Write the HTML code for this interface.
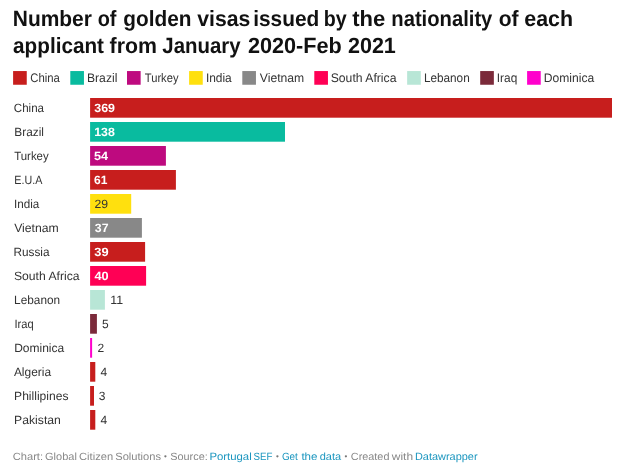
<!DOCTYPE html>
<html><head><meta charset="utf-8"><title>Chart</title>
<style>
html,body{margin:0;padding:0;background:#fff;}
body{width:620px;height:473px;position:relative;overflow:hidden;text-rendering:geometricPrecision;font-family:"Liberation Sans",sans-serif;color:#333;}
h1,.legend,.rows,.footer{position:absolute;left:0;top:0;margin:0;padding:0;width:620px;height:0;font:inherit;}
span,a{position:absolute;left:0;top:0;white-space:nowrap;line-height:20px;transform-origin:0 0;}
.t{font-weight:bold;font-size:22px;color:#111;}
.lg{font-size:12.4px;color:#333;}
.lb{font-size:12px;color:#333;}
.v{font-size:12px;color:#333;}
.ft{font-size:10.5px;color:#888;}

</style></head><body>
<svg width="620" height="473" viewBox="0 0 620 473" style="position:absolute;left:0;top:0" class="shapes">
<rect x="13.10" y="71.05" width="13.65" height="13.7" fill="#c71e1d"/>
<rect x="70.30" y="71.05" width="13.65" height="13.7" fill="#09bb9f"/>
<rect x="127.00" y="71.05" width="13.65" height="13.7" fill="#be0a7f"/>
<rect x="189.10" y="71.05" width="13.65" height="13.7" fill="#ffe00e"/>
<rect x="242.30" y="71.05" width="13.65" height="13.7" fill="#888888"/>
<rect x="314.30" y="71.05" width="13.65" height="13.7" fill="#ff0055"/>
<rect x="407.15" y="71.05" width="13.65" height="13.7" fill="#b8e6d6"/>
<rect x="480.20" y="71.05" width="13.65" height="13.7" fill="#7b2a3a"/>
<rect x="527.10" y="71.05" width="13.65" height="13.7" fill="#ff00cc"/>
<rect x="90.1" y="98" width="521.90" height="19.7" fill="#c71e1d"/>
<rect x="90.1" y="122" width="194.90" height="19.7" fill="#09bb9f"/>
<rect x="90.1" y="146" width="75.80" height="19.7" fill="#be0a7f"/>
<rect x="90.1" y="170" width="85.80" height="19.7" fill="#c71e1d"/>
<rect x="90.1" y="194" width="41.10" height="19.7" fill="#ffe00e"/>
<rect x="90.1" y="218" width="51.80" height="19.7" fill="#888888"/>
<rect x="90.1" y="242" width="55.00" height="19.7" fill="#c71e1d"/>
<rect x="90.1" y="266" width="56.00" height="19.7" fill="#ff0055"/>
<rect x="90.1" y="290" width="14.80" height="19.7" fill="#b8e6d6"/>
<rect x="90.1" y="314" width="6.80" height="19.7" fill="#7b2a3a"/>
<rect x="90.1" y="338" width="2.00" height="19.7" fill="#ff00cc"/>
<rect x="90.1" y="362" width="5.20" height="19.7" fill="#c71e1d"/>
<rect x="90.1" y="386" width="3.90" height="19.7" fill="#c71e1d"/>
<rect x="90.1" y="410" width="5.20" height="19.7" fill="#c71e1d"/>
</svg>
<h1 class="title">
<span class="t" id="a0" style="transform:translate(12.77px,9px) scaleX(0.9519);">Number</span>
<span class="t" id="a1" style="transform:translate(97.71px,9px) scaleX(0.9046);">of</span>
<span class="t" id="a2" style="transform:translate(123.36px,9px) scaleX(0.9447);">golden</span>
<span class="t" id="a3" style="transform:translate(197.22px,9px) scaleX(0.9646);">visas</span>
<span class="t" id="a4" style="transform:translate(253.17px,9px) scaleX(0.9474);">issued</span>
<span class="t" id="a5" style="transform:translate(323.73px,9px) scaleX(0.8932);">by</span>
<span class="t" id="a6" style="transform:translate(352.22px,9px);">the</span>
<span class="t" id="a7" style="transform:translate(391.30px,9px) scaleX(0.9186);">nationality</span>
<span class="t" id="a8" style="transform:translate(498.64px,9px) scaleX(0.9563);">of</span>
<span class="t" id="a9" style="transform:translate(524.31px,9px) scaleX(0.9718);">each</span>
<span class="t" id="b0" style="transform:translate(13.10px,36px) scaleX(0.9405);">applicant</span>
<span class="t" id="b1" style="transform:translate(109.61px,36px) scaleX(0.9685);">from</span>
<span class="t" id="b2" style="transform:translate(162.35px,36px) scaleX(0.9278);">January</span>
<span class="t" id="b3" style="transform:translate(247.93px,36px) scaleX(0.9846);">2020-Feb</span>
<span class="t" id="b4" style="transform:translate(347.94px,36px) scaleX(0.9787);">2021</span>
</h1>
<div class="legend">
<span class="lg" id="g0" style="transform:translate(30.19px,68px) scaleX(0.9150);">China</span>
<span class="lg" id="g1" style="transform:translate(86.97px,68px) scaleX(0.9807);">Brazil</span>
<span class="lg" id="g2" style="transform:translate(144.76px,68px) scaleX(0.9011);">Turkey</span>
<span class="lg" id="g3" style="transform:translate(205.89px,68px) scaleX(0.9616);">India</span>
<span class="lg" id="g4" style="transform:translate(259.79px,68px) scaleX(0.9823);">Vietnam</span>
<span class="lg" id="g5" style="transform:translate(330.68px,68px) scaleX(0.9847);">South Africa</span>
<span class="lg" id="g6" style="transform:translate(423.92px,68px) scaleX(0.9490);">Lebanon</span>
<span class="lg" id="g7" style="transform:translate(496.80px,68px) scaleX(0.9572);">Iraq</span>
<span class="lg" id="g8" style="transform:translate(543.77px,68px) scaleX(0.9756);">Dominica</span>
</div>
<div class="rows">
<span class="lb" id="l0" style="transform:translate(13.81px,98px) scaleX(0.9636);">China</span>
<span class="v" id="v0" style="transform:translate(94.23px,98px) scaleX(1.0350);font-weight:bold;color:#fff">369</span>
<span class="lb" id="l1" style="transform:translate(14.31px,122px) scaleX(0.9857);">Brazil</span>
<span class="v" id="v1" style="transform:translate(94.24px,122px) scaleX(1.0298);font-weight:bold;color:#fff">138</span>
<span class="lb" id="l2" style="transform:translate(14.16px,146px) scaleX(0.9531);">Turkey</span>
<span class="v" id="v2" style="transform:translate(94.09px,146px) scaleX(1.0528);font-weight:bold;color:#fff">54</span>
<span class="lb" id="l3" style="transform:translate(14.33px,170px) scaleX(0.8922);">E.U.A</span>
<span class="v" id="v3" style="transform:translate(94.09px,170px);font-weight:bold;color:#fff">61</span>
<span class="lb" id="l4" style="transform:translate(13.90px,194px) scaleX(0.9730);">India</span>
<span class="v" id="v4" style="transform:translate(94.45px,194px) scaleX(1.0187);color:#333">29</span>
<span class="lb" id="l5" style="transform:translate(14.18px,218px) scaleX(1.0183);">Vietnam</span>
<span class="v" id="v5" style="transform:translate(94.79px,218px) scaleX(1.0270);font-weight:bold;color:#fff">37</span>
<span class="lb" id="l6" style="transform:translate(13.44px,242px) scaleX(0.9830);">Russia</span>
<span class="v" id="v6" style="transform:translate(94.23px,242px) scaleX(1.0711);font-weight:bold;color:#fff">39</span>
<span class="lb" id="l7" style="transform:translate(13.95px,266px) scaleX(1.0140);">South Africa</span>
<span class="v" id="v7" style="transform:translate(94.43px,266px) scaleX(1.0620);font-weight:bold;color:#fff">40</span>
<span class="lb" id="l8" style="transform:translate(14.10px,290px) scaleX(0.9845);">Lebanon</span>
<span class="v" id="v8" style="transform:translate(110.21px,290px) scaleX(1.0307);color:#333">11</span>
<span class="lb" id="l9" style="transform:translate(14.40px,314px) scaleX(0.9289);">Iraq</span>
<span class="v" id="v9" style="transform:translate(102.09px,314px);color:#333">5</span>
<span class="lb" id="l10" style="transform:translate(14.14px,338px);">Dominica</span>
<span class="v" id="v10" style="transform:translate(97.45px,338px);color:#333">2</span>
<span class="lb" id="l11" style="transform:translate(13.90px,362px) scaleX(0.9940);">Algeria</span>
<span class="v" id="v11" style="transform:translate(100.54px,362px);color:#333">4</span>
<span class="lb" id="l12" style="transform:translate(14.10px,386px) scaleX(1.0056);">Phillipines</span>
<span class="v" id="v12" style="transform:translate(98.84px,386px);color:#333">3</span>
<span class="lb" id="l13" style="transform:translate(14.12px,410px) scaleX(1.0158);">Pakistan</span>
<span class="v" id="v13" style="transform:translate(100.54px,410px);color:#333">4</span>
</div>
<div class="footer">
<span class="ft" id="f0" style="transform:translate(12.78px,447px) scaleX(1.0581);">Chart:</span>
<span class="ft" id="f1" style="transform:translate(45.06px,447px) scaleX(1.0472);">Global</span>
<span class="ft" id="f2" style="transform:translate(79.05px,447px) scaleX(1.0612);">Citizen</span>
<span class="ft" id="f3" style="transform:translate(115.27px,447px) scaleX(1.0592);">Solutions</span>
<span class="ft" id="f4" style="transform:translate(164.02px,447px);font-size:8px;color:#777">•</span>
<span class="ft" id="f5" style="transform:translate(170.26px,447px) scaleX(1.0357);">Source:</span>
<a class="ft" id="f6" style="transform:translate(209.39px,447px) scaleX(1.0816);color:#1b96bf">Portugal</a>
<a class="ft" id="f7" style="transform:translate(253.43px,447px) scaleX(0.9253);color:#1b96bf">SEF</a>
<span class="ft" id="f8" style="transform:translate(276.02px,447px);font-size:8px;color:#777">•</span>
<a class="ft" id="f9" style="transform:translate(281.91px,447px) scaleX(0.9421);color:#1b96bf">Get</a>
<a class="ft" id="f10" style="transform:translate(301.40px,447px) scaleX(1.1016);color:#1b96bf">the</a>
<a class="ft" id="f11" style="transform:translate(319.65px,447px) scaleX(1.0484);color:#1b96bf">data</a>
<span class="ft" id="f12" style="transform:translate(344.52px,447px);font-size:8px;color:#777">•</span>
<span class="ft" id="f13" style="transform:translate(350.82px,447px) scaleX(1.0330);">Created</span>
<span class="ft" id="f14" style="transform:translate(391.83px,447px) scaleX(1.1379);">with</span>
<a class="ft" id="f15" style="transform:translate(414.91px,447px) scaleX(1.0415);color:#1b96bf">Datawrapper</a>
</div>
</body></html>
